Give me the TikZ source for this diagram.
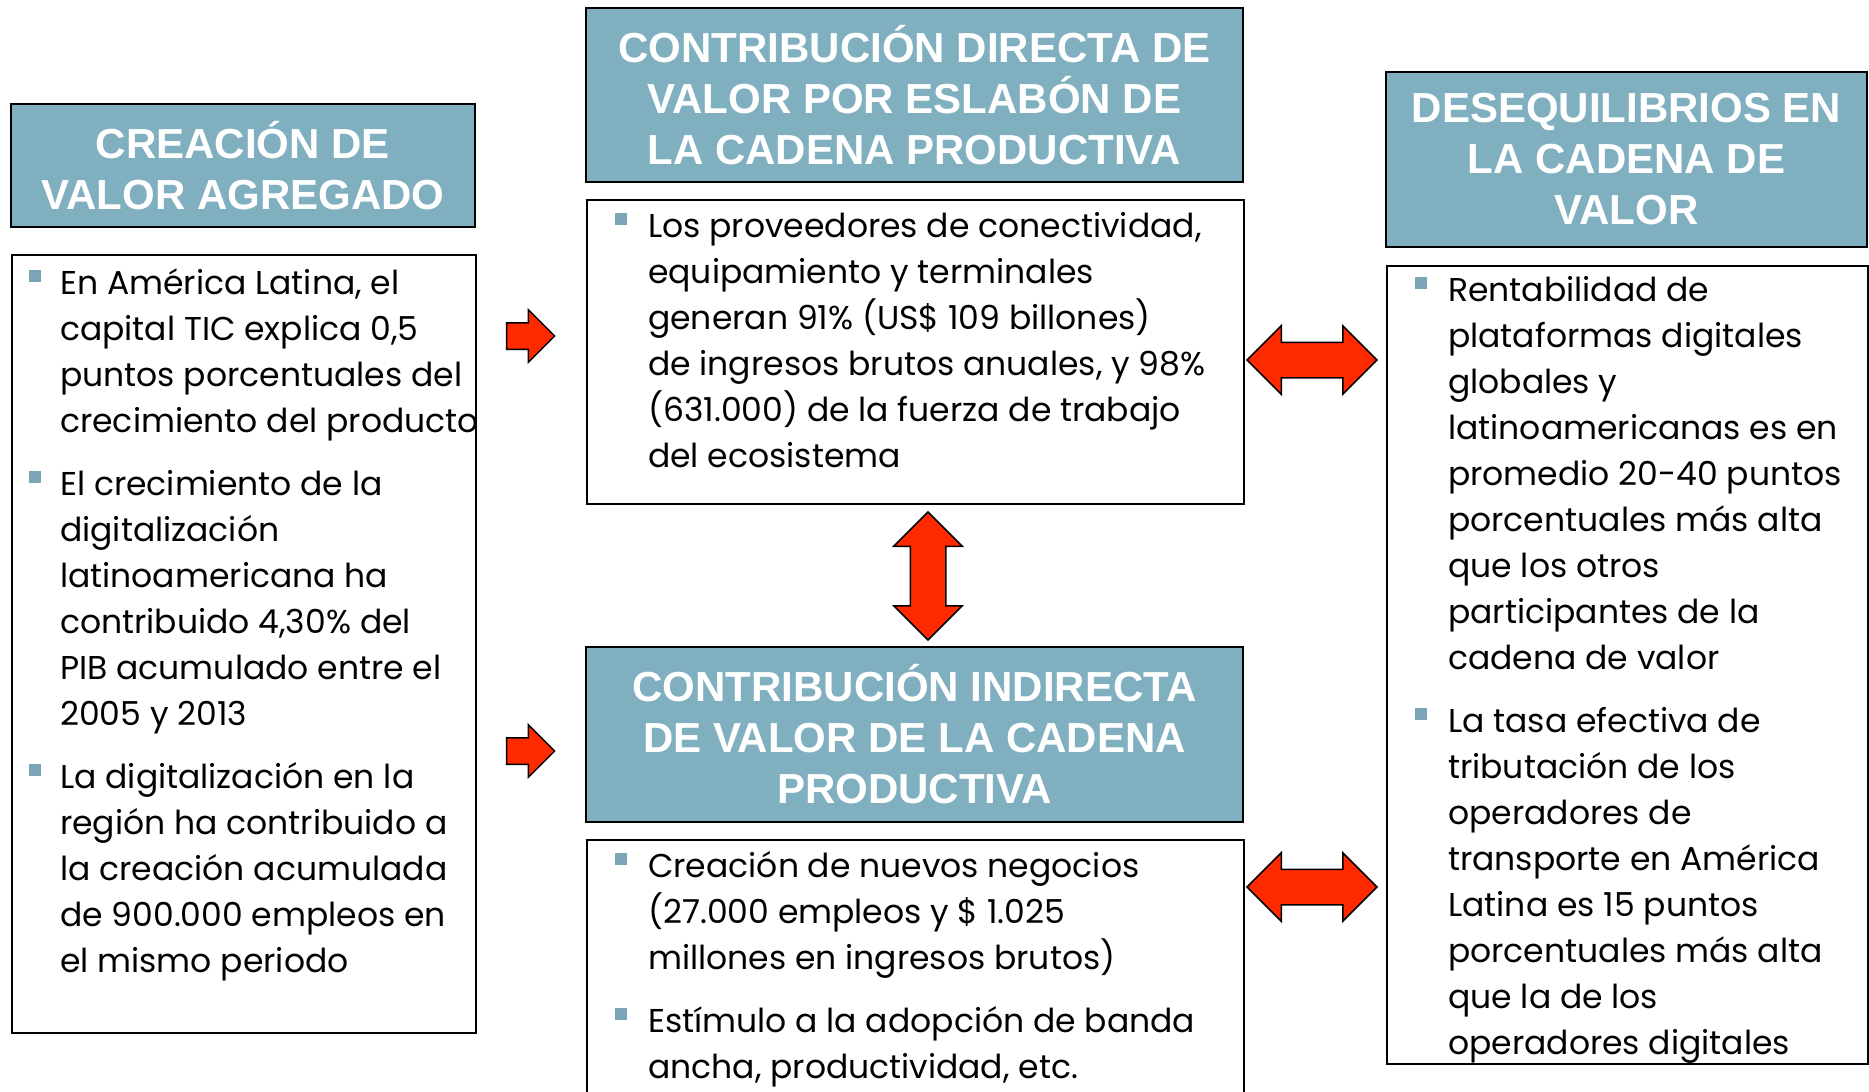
\documentclass[tikz,border=0pt]{standalone}
\usepackage{fontspec}
\setmainfont{Poppins}
\newfontfamily\headfont{Liberation Sans}
\usetikzlibrary{shapes.arrows}

\definecolor{headblue}{RGB}{128,176,191}
\definecolor{bulletblue}{RGB}{122,165,180}
\definecolor{arrowred}{RGB}{255,42,0}

\newcommand{\bul}{\textcolor{bulletblue}{\rule[0.36em]{12pt}{12pt}}}

\tikzset{
  headbox/.style={draw=black, line width=2pt, fill=headblue, inner sep=0pt, text=white,
    font=\headfont\bfseries\fontsize{42}{51}\selectfont, align=center},
  bodybox/.style={draw=black, line width=2pt, fill=white, inner sep=0pt, anchor=north west},
  bodytext/.style={inner sep=0pt, anchor=base west, font=\fontsize{33}{46}\selectfont},
  redarrow/.style={draw=black, line width=1.5pt, fill=arrowred},
  pusharrow/.style={redarrow, single arrow, inner sep=12.5pt, minimum height=48pt, single arrow head extend=13pt},
  linkarrow/.style={redarrow, double arrow, inner sep=17pt, minimum height=130pt, double arrow head extend=16.5pt}
}

\begin{document}
\begin{tikzpicture}[x=1pt,y=-1pt]
  \useasboundingbox (0,0) rectangle (1869,1092);

  % headers
  \node[headbox, minimum width=464pt, minimum height=123pt] (leftHead) at (243,165.5) {CREACIÓN DE\\VALOR AGREGADO};
  \node[headbox, minimum width=657pt, minimum height=174pt] (directHead) at (914.5,95) {CONTRIBUCIÓN DIRECTA DE\\VALOR POR ESLABÓN DE\\LA CADENA PRODUCTIVA};
  \node[headbox, minimum width=657pt, minimum height=175pt] (indirectHead) at (914.5,734.5) {CONTRIBUCIÓN INDIRECTA\\DE VALOR DE LA CADENA\\PRODUCTIVA};
  \node[headbox, minimum width=481pt, minimum height=175pt] (rightHead) at (1626.5,159.5) {DESEQUILIBRIOS EN\\LA CADENA DE\\VALOR};

  % body boxes
  \node[bodybox, minimum width=464pt, minimum height=778pt] (leftBody) at (11,254) {};
  \node[bodybox, minimum width=657pt, minimum height=304pt] (directBody) at (586,199) {};
  \node[bodybox, minimum width=657pt, minimum height=270pt] (indirectBody) at (586,839) {};
  \node[bodybox, minimum width=481pt, minimum height=798pt] (rightBody) at (1386,265) {};

  % texts
  \node[bodytext] (leftText) at (29,294) {\begin{tabular}[t]{@{}p{31pt}@{}l@{}}
    \bul & En América Latina, el\\ & capital TIC explica 0,5\\ & puntos porcentuales del\\ & crecimiento del producto\\[17pt]
    \bul & El crecimiento de la\\ & digitalización\\ & latinoamericana ha\\ & contribuido 4,30\% del\\ & PIB acumulado entre el\\ & 2005 y 2013\\[17pt]
    \bul & La digitalización en la\\ & región ha contribuido a\\ & la creación acumulada\\ & de 900.000 empleos en\\ & el mismo periodo
  \end{tabular}};
  \node[bodytext] (directText) at (615,237) {\begin{tabular}[t]{@{}p{33pt}@{}l@{}}
    \bul & Los proveedores de conectividad,\\ & equipamiento y terminales\\ & generan 91\% (US\$ 109 billones)\\ & de ingresos brutos anuales, y 98\%\\ & (631.000) de la fuerza de trabajo\\ & del ecosistema
  \end{tabular}};
  \node[bodytext] (indirectText) at (615,877) {\begin{tabular}[t]{@{}p{33pt}@{}l@{}}
    \bul & Creación de nuevos negocios\\ & (27.000 empleos y \$ 1.025\\ & millones en ingresos brutos)\\[17pt]
    \bul & Estímulo a la adopción de banda\\ & ancha, productividad, etc.
  \end{tabular}};
  \node[bodytext] (rightText) at (1415,301) {\begin{tabular}[t]{@{}p{33pt}@{}l@{}}
    \bul & Rentabilidad de\\ & plataformas digitales\\ & globales y\\ & latinoamericanas es en\\ & promedio 20-40 puntos\\ & porcentuales más alta\\ & que los otros\\ & participantes de la\\ & cadena de valor\\[17pt]
    \bul & La tasa efectiva de\\ & tributación de los\\ & operadores de\\ & transporte en América\\ & Latina es 15 puntos\\ & porcentuales más alta\\ & que la de los\\ & operadores digitales
  \end{tabular}};

  % arrows
  \node[pusharrow] (arrowTop) at (524,336) {};
  \node[pusharrow] (arrowBottom) at (524,751) {};
  \node[linkarrow] (linkTop) at (1312,360) {};
  \node[linkarrow] (linkBottom) at (1312,887) {};
  \node[linkarrow, shape border rotate=90, minimum height=128pt] (linkMid) at (928,576) {};
\end{tikzpicture}
\end{document}
